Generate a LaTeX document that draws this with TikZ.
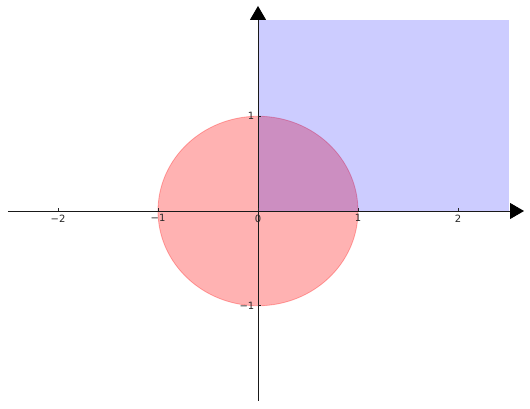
\documentclass[tikz,border=0pt]{standalone}
\usepackage{fontspec}
\setmainfont{DejaVu Sans}
\usetikzlibrary{arrows.meta}
\begin{document}
\begin{tikzpicture}[x=100pt,y=94.75pt,
  axisline/.style={black!90,line width=0.9pt,-{Triangle[width=16pt,length=14pt,color=black,fill=black]}},
  tickmark/.style={black!85,line width=0.8pt},
  ticklabel/.style={font=\fontsize{10}{12}\selectfont,inner sep=0pt,text=black!85}]
\useasboundingbox (-2.58,-2.0792) rectangle (2.72,2.2269);
% filled regions
\path[fill=red,fill opacity=0.3,draw=red,draw opacity=0.3,line width=0.8pt]
  (0,0) ellipse [x radius=100pt,y radius=94.75pt];
\path[fill=blue,fill opacity=0.2] (0,0) rectangle (2.51,2.016);
% axes
\coordinate (xs) at (-2.5,0);
\coordinate (xe) at (2.66,0);
\coordinate (ys) at (0,-2);
\coordinate (ye) at (0,2.164);
\draw[axisline] (xs) -- (xe);
\draw[axisline] (ys) -- (ye);
% x ticks
\foreach \v/\t in {-2/−2,-1/−1,0/0,1/1,2/2}{
  \coordinate (xt\v) at (\v,0);
  \draw[tickmark] (xt\v) -- ++(0,3.5pt);
  \node[ticklabel,anchor=north] (xl\v) at ([yshift=-3.5pt]xt\v) {\t};
}
% y ticks
\foreach \v/\t in {-1/−1,1/1}{
  \coordinate (yt\v) at (0,\v);
  \draw[tickmark] (yt\v) -- ++(3.5pt,0);
  \node[ticklabel,anchor=east] (yl\v) at ([xshift=-3.5pt]yt\v) {\t};
}
\end{tikzpicture}
\end{document}
